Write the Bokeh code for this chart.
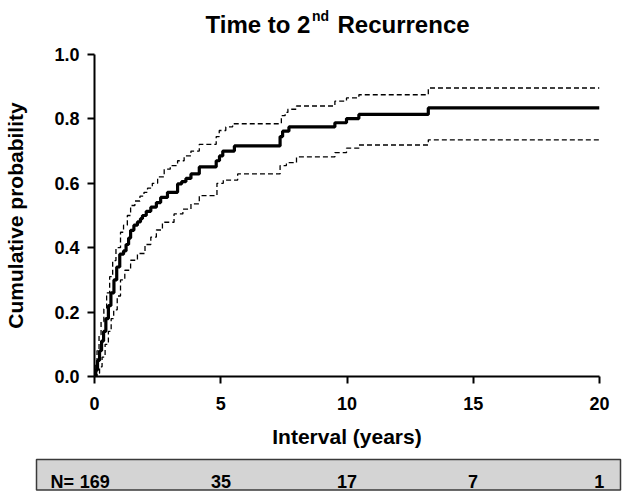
from bokeh.plotting import figure
from bokeh.models import Range1d, FixedTicker, Label, NumeralTickFormatter
from bokeh.embed import file_html
from bokeh.resources import INLINE

# ---------------- data ----------------
main_t = [0, 0.05, 0.12, 0.2, 0.28, 0.36, 0.45, 0.55, 0.65, 0.77, 0.88, 1.0, 1.15, 1.25, 1.35,
          1.43, 1.56, 1.7, 1.82, 1.9, 2.05, 2.23, 2.45, 2.62, 2.89, 3.29, 3.45, 3.62, 3.82, 4.15,
          4.82, 4.95, 5.08, 5.54, 7.35, 7.45, 7.7, 9.52, 9.98, 10.47, 13.22, 20]
main_v = [0.0, 0.02, 0.05, 0.08, 0.11, 0.14, 0.18, 0.22, 0.26, 0.30, 0.34, 0.38, 0.39, 0.41, 0.43,
          0.454, 0.47, 0.48, 0.49, 0.50, 0.513, 0.526, 0.54, 0.556, 0.572, 0.598, 0.605, 0.615, 0.629, 0.651,
          0.67, 0.685, 0.70, 0.716, 0.745, 0.762, 0.775, 0.788, 0.801, 0.814, 0.834, 0.834]

upper_t = [0, 0.05, 0.1, 0.18, 0.26, 0.37, 0.48, 0.6, 0.72, 0.85, 1.03, 1.15, 1.3, 1.43, 1.6, 1.8,
           1.96, 2.1, 2.29, 2.5, 2.76, 3.0, 3.29, 3.55, 3.82, 4.15, 4.82, 4.94, 5.2, 5.47, 7.4, 7.55,
           7.66, 8.0, 9.52, 9.98, 10.47, 13.22, 20]
upper_v = [0, 0.04, 0.08, 0.13, 0.17, 0.21, 0.26, 0.31, 0.36, 0.40, 0.448, 0.47, 0.50, 0.531, 0.545, 0.56,
           0.572, 0.585, 0.60, 0.62, 0.644, 0.655, 0.67, 0.685, 0.70, 0.721, 0.745, 0.764, 0.775, 0.785, 0.81, 0.82,
           0.83, 0.84, 0.855, 0.865, 0.875, 0.896, 0.896]

lower_t = [0, 0.1, 0.2, 0.3, 0.42, 0.55, 0.66, 0.76, 0.9, 1.03, 1.2, 1.43, 1.7, 2.0, 2.23, 2.45, 2.69,
           3.15, 3.5, 3.82, 4.15, 4.85, 5.1, 5.67, 7.35, 7.6, 8.0, 9.52, 9.98, 10.47, 13.22, 20]
lower_v = [0, 0.01, 0.03, 0.06, 0.10, 0.14, 0.18, 0.207, 0.25, 0.30, 0.33, 0.361, 0.382, 0.41, 0.433, 0.455, 0.479,
           0.505, 0.52, 0.536, 0.562, 0.60, 0.61, 0.629, 0.655, 0.664, 0.682, 0.695, 0.709, 0.719, 0.735, 0.735]

x_ticks = [0, 5, 10, 15, 20]
y_ticks = [0.0, 0.2, 0.4, 0.6, 0.8, 1.0]
risk_years = [0, 5, 10, 15, 20]
risk_counts = [169, 35, 17, 7, 1]

FONT = "Liberation Sans"
W = 625

# page-pixel -> year helper (x=0 at 94.3 px, x=20 at 598.7 px)
FX0, FX1 = 94.3, 598.7
def dx(px):
    return (px - FX0) / (FX1 - FX0) * 20.0

def lab(fig, x, y, text, size, align="left", baseline="alphabetic"):
    fig.add_layout(Label(x=x, y=y, text=text, text_font=FONT, text_font_style="bold",
                         text_font_size=size, text_align=align, text_baseline=baseline,
                         text_color="black"))

def blank(height):
    f = figure(width=W, height=height, x_range=Range1d(dx(0), dx(W)), y_range=Range1d(height, 0),
               output_backend="svg", toolbar_location=None, x_axis_type=None, y_axis_type=None,
               min_border=0)
    f.outline_line_color = None
    f.xgrid.visible = False
    f.ygrid.visible = False
    return f

# ---------------- title ----------------
TH = 40
tf = blank(TH)
lab(tf, dx(205), 23.5, "Time to 2", "24px")
lab(tf, dx(311.5), 15, "nd", "14px")
lab(tf, dx(337), 23.5, " Recurrence", "24px")

# ---------------- main plot ----------------
p = figure(width=W, height=413, x_range=Range1d(0, 20), y_range=Range1d(0, 1),
           output_backend="svg", toolbar_location=None,
           min_border_left=94, min_border_right=W - 599, min_border_top=14, min_border_bottom=77)
p.outline_line_color = None
p.xgrid.visible = False
p.ygrid.visible = False

p.step(main_t, main_v, mode="after", line_color="black", line_width=3.2)
p.step(upper_t, upper_v, mode="after", line_color="black", line_width=1.3, line_dash="5 3")
p.step(lower_t, lower_v, mode="after", line_color="black", line_width=1.3, line_dash="5 3")

for ax in (p.xaxis[0], p.yaxis[0]):
    ax.axis_line_width = 2
    ax.major_tick_line_width = 2
    ax.major_tick_out = 7
    ax.major_tick_in = 0
    ax.minor_tick_line_color = None
    ax.major_label_text_font = FONT
    ax.major_label_text_font_style = "bold"
    ax.major_label_text_font_size = "18px"
    ax.major_label_text_color = "black"
    ax.axis_label_text_font = FONT
    ax.axis_label_text_font_style = "bold"
    ax.axis_label_text_font_size = "21px"
    ax.axis_label_text_color = "black"
p.xaxis.ticker = FixedTicker(ticks=x_ticks)
p.yaxis.ticker = FixedTicker(ticks=y_ticks)
p.yaxis.formatter = NumeralTickFormatter(format="0.0")
p.xaxis.bounds = (0, 20)
p.yaxis.bounds = (0, 1)
p.xaxis.major_label_standoff = 13
p.yaxis.major_label_standoff = 8
p.xaxis.axis_label = "Interval (years)"
p.yaxis.axis_label = "Cumulative probability"
p.xaxis.axis_label_standoff = 12
p.yaxis.axis_label_standoff = 24

# ---------------- at-risk table ----------------
RH = 38
t = blank(RH)
t.quad(left=[dx(36)], right=[dx(620)], top=[6], bottom=[36.5],
       fill_color="#d4d4d4", line_color="#3a3a3a", line_width=1.5)
for yr, n in zip(risk_years, risk_counts):
    lab(t, yr, 28, str(n), "18px", align="center")
lab(t, dx(50), 28, "N=", "18px")

open("out.html", "w").write(file_html([tf, p, t], INLINE))
